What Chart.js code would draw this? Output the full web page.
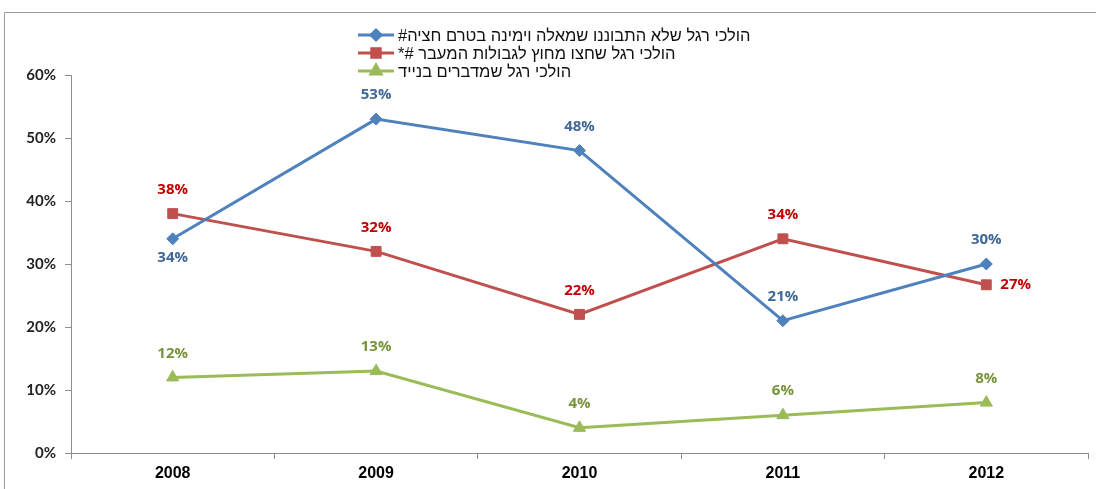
<!DOCTYPE html>
<html><head><meta charset="utf-8">
<script src="https://cdn.jsdelivr.net/npm/chart.js@4.4.0/dist/chart.umd.min.js"></script>
<style>html,body{margin:0;padding:0;background:#fff}#wrap{width:1096px;height:489px;position:relative}</style>
</head><body><div id="wrap"><canvas id="c" width="1096" height="489"></canvas></div>
<script>
const years = ['2008','2009','2010','2011','2012'];
const seriesNames = [
  'הולכי רגל שלא התבוננו שמאלה וימינה בטרם חציה#',
  'הולכי רגל שחצו מחוץ לגבולות המעבר #*',
  'הולכי רגל שמדברים בנייד'
];
const lookedNot = [34, 53, 48, 21, 30];
const crossedOutside = [38, 32, 22, 34, 26.7];
const talkingPhone = [12, 13, 4, 6, 8];
const yTicks = [0, 10, 20, 30, 40, 50, 60];

const lineColors = ['#4F81BD', '#C0504D', '#9BBB59'];
const labelColors = ['#3F6797', '#C00000', '#77933C'];
const pointStyles = ['rectRot', 'rect', 'triangle'];
const pointRadii = [6, 7, 7];
const legendRadii = [5, 6, 6];
const labelPos = [
  ['below','above','above','above','above'],
  ['above','above','above','above','right'],
  ['above','above','above','above','above']
];

const dataLabelPlugin = {
  id: 'dataLabels',
  afterDatasetsDraw(chart) {
    const ctx = chart.ctx;
    ctx.save();
    ctx.font = 'bold 15px "Open Sans", sans-serif';
    ctx.textBaseline = 'middle';
    chart.data.datasets.forEach((ds, i) => {
      const meta = chart.getDatasetMeta(i);
      meta.data.forEach((pt, j) => {
        const txt = Math.round(ds.data[j]) + '%';
        const pos = labelPos[i][j];
        ctx.fillStyle = labelColors[i];
        if (pos === 'right') { ctx.textAlign = 'left'; ctx.fillText(txt, pt.x + 14, pt.y); }
        else if (pos === 'below') { ctx.textAlign = 'center'; ctx.fillText(txt, pt.x, pt.y + 19); }
        else { ctx.textAlign = 'center'; ctx.fillText(txt, pt.x, pt.y - 24); }
      });
    });
    ctx.restore();
  }
};

const legendPlugin = {
  id: 'customLegend',
  afterDraw(chart) {
    const ctx = chart.ctx;
    ctx.save();
    ctx.strokeStyle = '#9a9a9a';
    ctx.lineWidth = 1;
    ctx.beginPath();
    ctx.moveTo(4.5, 495); ctx.lineTo(4.5, 12.5); ctx.lineTo(1100, 12.5);
    ctx.stroke();
    const x0 = 358, x1 = 394, rows = [35, 53, 71];
    chart.data.datasets.forEach((ds, i) => {
      const y = rows[i];
      ctx.strokeStyle = ds.borderColor;
      ctx.lineWidth = 3;
      ctx.beginPath(); ctx.moveTo(x0, y); ctx.lineTo(x1, y); ctx.stroke();
      ctx.fillStyle = ds.pointBackgroundColor;
      ctx.strokeStyle = ds.pointBackgroundColor;
      Chart.helpers.drawPoint(ctx, {pointStyle: ds.pointStyle, radius: legendRadii[i], borderWidth: 1, rotation: 0}, (x0 + x1) / 2, y);
      ctx.fillStyle = '#111';
      ctx.font = '16.5px "Liberation Sans", Arial, sans-serif';
      ctx.direction = 'rtl';
      ctx.textAlign = 'left';
      ctx.textBaseline = 'middle';
      ctx.fillText(ds.label, 398, y + 1);
    });
    ctx.restore();
  }
};

const datasets = [lookedNot, crossedOutside, talkingPhone].map((d, i) => ({
  label: seriesNames[i],
  data: d,
  borderColor: lineColors[i],
  backgroundColor: lineColors[i],
  pointBackgroundColor: lineColors[i],
  pointBorderColor: lineColors[i],
  pointStyle: pointStyles[i],
  pointRadius: pointRadii[i],
  pointBorderWidth: 1,
  borderWidth: 3,
  tension: 0,
  fill: false
}));

new Chart(document.getElementById('c'), {
  type: 'line',
  data: { labels: years, datasets },
  plugins: [dataLabelPlugin, legendPlugin],
  options: {
    responsive: false,
    animation: false,
    devicePixelRatio: 1,
    layout: { padding: { top: 75, right: 8, left: 0, bottom: 0 } },
    plugins: { legend: { display: false }, tooltip: { enabled: false } },
    scales: {
      x: {
        offset: true,
        grid: { display: true, drawOnChartArea: false, color: '#8c8c8c', tickLength: 6, offset: true },
        border: { color: '#8c8c8c', width: 1 },
        ticks: { color: '#000', font: { family: '"Liberation Sans", Arial, sans-serif', size: 16, weight: 'bold' }, padding: 5 },
        afterFit(s) { s.height = 36; }
      },
      y: {
        min: 0, max: 60,
        afterBuildTicks(s) { s.ticks = yTicks.map(v => ({ value: v })); },
        grid: { display: true, drawOnChartArea: false, color: '#8c8c8c', tickLength: 6 },
        border: { color: '#8c8c8c', width: 1 },
        ticks: { color: '#222', font: { family: 'Lato, "Open Sans", sans-serif', size: 15, weight: 'bold' }, padding: 9, callback: v => v + '%' },
        afterFit(s) { s.width = 71; }
      }
    }
  }
});
</script>
</body></html>
